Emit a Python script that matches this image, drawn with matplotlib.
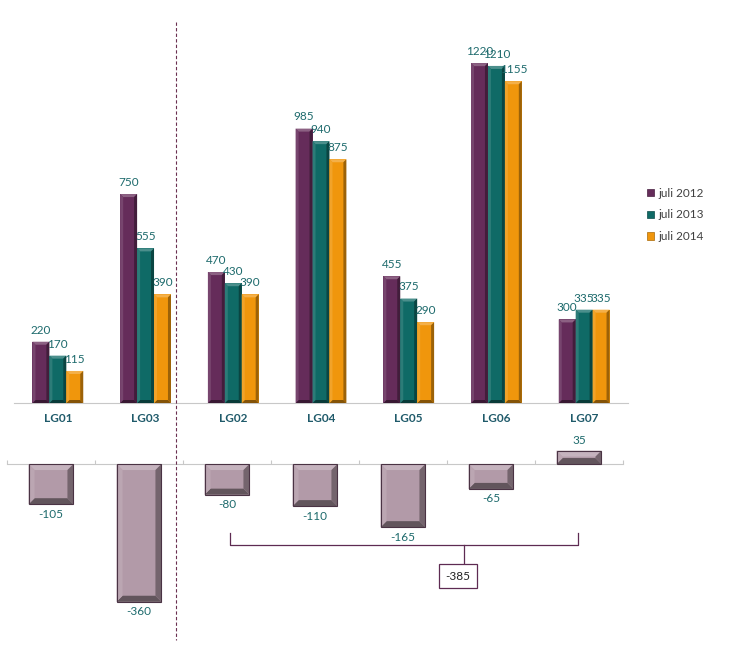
import matplotlib
matplotlib.use("Agg")
import matplotlib.pyplot as plt
from matplotlib.patches import Polygon, Patch, Rectangle
from matplotlib.lines import Line2D
import matplotlib.colors as mcolors
import numpy as np

categories = ["LG01", "LG03", "LG02", "LG04", "LG05", "LG06", "LG07"]
series_names = ["juli 2012", "juli 2013", "juli 2014"]
juli_2012 = [220, 750, 470, 985, 455, 1220, 300]
juli_2013 = [170, 555, 430, 940, 375, 1210, 335]
juli_2014 = [115, 390, 390, 875, 290, 1155, 335]
diff = [-105, -360, -80, -110, -165, -65, 35]
brace_total = -385

colors = ["#652c5a", "#0f6a66", "#f0960c"]
neg_color = "#b29aa8"
label_color = "#1d6a6c"
cat_color = "#1f5a6a"
txt_family = ["Lato", "DejaVu Sans"]

W, H = 739, 665
fig = plt.figure(figsize=(W / 100, H / 100), dpi=100)

def fx(px):
    return px / W

def fy(py):
    return 1 - py / H

# top axes: baseline at y=403, top at y=13 (ylim 0..1400)
ax = fig.add_axes([fx(14), fy(403), fx(614), (403 - 13) / H])
ax.set_xlim(-0.5, len(categories) - 0.5)
ax.set_ylim(0, 1400)
for s in ["top", "right", "left"]:
    ax.spines[s].set_visible(False)
ax.spines["bottom"].set_color("#c8c8c8")
ax.set_yticks([])
ax.set_xticks(range(len(categories)))
ax.set_xticklabels(categories, fontsize=8.5, fontweight="bold", color=cat_color,
                   family=txt_family)
ax.tick_params(axis="x", length=0, pad=7)

# bottom axes: baseline y=464, 0.383 px per unit
bax = fig.add_axes([fx(7), fy(640), fx(616), (640 - 430) / H])
bax.set_xlim(-0.5, len(categories) - 0.5)
bax.set_ylim(-460, 89)
for s in ["top", "right", "left"]:
    bax.spines[s].set_visible(False)
bax.spines["bottom"].set_position(("data", 0))
bax.spines["bottom"].set_color("#c8c8c8")
bax.set_yticks([])
bax.set_xticks(np.arange(-0.5, len(categories) + 0.5, 1))
bax.set_xticklabels([])
bax.tick_params(axis="x", direction="in", length=3, color="#c8c8c8")


def shade(c, f):
    r, g, b = mcolors.to_rgb(c)
    if f >= 1:
        return (r + (1 - r) * (f - 1), g + (1 - g) * (f - 1), b + (1 - b) * (f - 1))
    return (r * f, g * f, b * f)


def bevel(a, x0, x1, y0, y1, color, bpx=3, outline=None):
    inv = a.transData.inverted()
    p0 = inv.transform((0, 0))
    p1 = inv.transform((bpx, bpx))
    dx = abs(p1[0] - p0[0])
    dy = abs(p1[1] - p0[1])
    dy = min(dy, abs(y1 - y0) / 2)
    lo, hi = min(y0, y1), max(y0, y1)
    a.add_patch(Rectangle((x0, lo), x1 - x0, hi - lo, color=color, lw=0, zorder=2))
    polys = [
        ([(x0, hi), (x1, hi), (x1 - dx, hi - dy), (x0 + dx, hi - dy)], shade(color, 1.25)),
        ([(x0, lo), (x1, lo), (x1 - dx, lo + dy), (x0 + dx, lo + dy)], shade(color, 0.55)),
        ([(x0, lo), (x0, hi), (x0 + dx, hi - dy), (x0 + dx, lo + dy)], shade(color, 1.12)),
        ([(x1, lo), (x1, hi), (x1 - dx, hi - dy), (x1 - dx, lo + dy)], shade(color, 0.65)),
    ]
    for pts, c in polys:
        a.add_patch(Polygon(pts, closed=True, color=c, lw=0, zorder=3))
    if outline:
        a.add_patch(Rectangle((x0, lo), x1 - x0, hi - lo, fill=False, ec=outline,
                              lw=0.8, zorder=4))


bw = 0.193
for si, vals in enumerate([juli_2012, juli_2013, juli_2014]):
    for ci, v in enumerate(vals):
        xc = ci + (si - 1) * bw
        bevel(ax, xc - bw / 2, xc + bw / 2, 0, v, colors[si], bpx=3)
        ax.text(xc, v + 22, str(v), ha="center", va="bottom", fontsize=8.5,
                color=label_color, family=txt_family, zorder=5)

nbw = 0.51
for ci, v in enumerate(diff):
    bevel(bax, ci - nbw / 2, ci + nbw / 2, 0, v, neg_color, bpx=6, outline="#4a3344")
    if v < 0:
        bax.text(ci, v - 12, str(v), ha="center", va="top", fontsize=8.5,
                 color=label_color, family=txt_family, zorder=5)
    else:
        bax.text(ci, v + 12, str(v), ha="center", va="bottom", fontsize=8.5,
                 color=label_color, family=txt_family, zorder=5)

# brace from LG02 to LG07
bc = "#5e2b52"
x_a, x_b, x_tip = 2.03, 5.99, 4.69
y_h, y_end, y_tip = -211, -180, -258
bax.plot([x_a, x_a, x_b, x_b], [y_end, y_h, y_h, y_end], color=bc, lw=0.9,
         solid_joinstyle="round", zorder=4)
bax.plot([x_tip, x_tip], [y_h, y_tip], color=bc, lw=0.9, zorder=4)
bax.text(4.62, -293, str(brace_total), ha="center", va="center", fontsize=8.5,
         color="#222222", family=txt_family, zorder=5,
         bbox=dict(boxstyle="square,pad=0.55", fc="white", ec=bc, lw=0.9))

# vertical dashed divider
fig.add_artist(Line2D([fx(176), fx(176)], [fy(22), fy(640)], transform=fig.transFigure,
                      color="#6a3050", lw=0.8, ls=(0, (3, 2))))

handles = [Patch(facecolor=c, edgecolor=shade(c, 0.7), lw=0.5) for c in colors]
fig.legend(handles, series_names, loc="center left",
           bbox_to_anchor=(fx(636), fy(215)), frameon=False,
           handlelength=0.6, handleheight=0.6, labelspacing=0.9, handletextpad=0.4,
           prop={"family": txt_family, "size": 8.5}, labelcolor="#404040")

fig.savefig("out.png", dpi=100)
